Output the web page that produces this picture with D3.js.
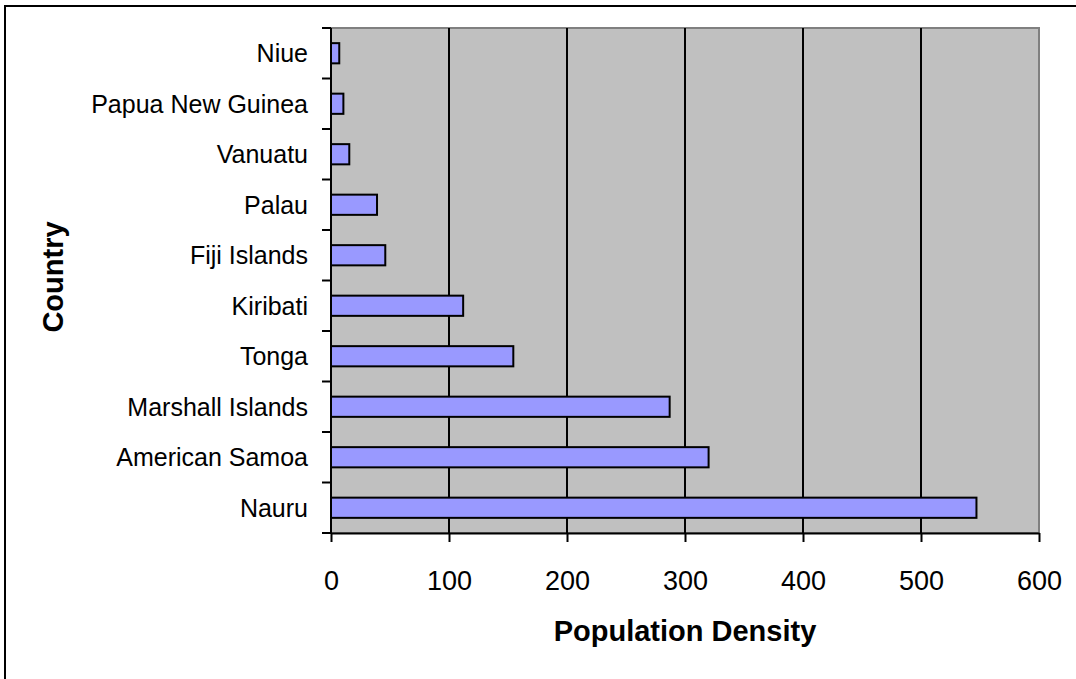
<!DOCTYPE html>
<html>
<head>
<meta charset="utf-8">
<script src="https://cdn.jsdelivr.net/npm/d3@7"></script>
<style>
  body { margin: 0; background: #fff; }
  svg { display: block; font-family: "Liberation Sans", Arial, sans-serif; }
</style>
</head>
<body>
<div id="chart"></div>
<script>
// data, top to bottom as drawn
const countries = ['Niue', 'Papua New Guinea', 'Vanuatu', 'Palau', 'Fiji Islands',
  'Kiribati', 'Tonga', 'Marshall Islands', 'American Samoa', 'Nauru']
const density = [7, 10.5, 15.5, 39, 46, 112, 154.5, 287, 320, 547]
const xTicks = [0, 100, 200, 300, 400, 500, 600]

const width = 1076, height = 679
const margin = { top: 28, right: 37, bottom: 146, left: 331 }

const svg = d3.select('#chart').append('svg')
  .attr('width', width)
  .attr('height', height)

// outer chart border (right/bottom run off the picture)
svg.append('rect')
  .attr('x', 5).attr('y', 6)
  .attr('width', width + 10).attr('height', height + 10)
  .attr('fill', '#fff')
  .attr('stroke', '#000')
  .attr('stroke-width', 2)

const x = d3.scaleLinear().domain([0, 600]).range([margin.left, width - margin.right])
const y = d3.scaleBand().domain(countries).range([margin.top, height - margin.bottom])
  .paddingInner(0.6).paddingOuter(0.3)

const plotTop = margin.top, plotBottom = height - margin.bottom

// plot area
svg.append('rect')
  .attr('x', x(0)).attr('y', plotTop)
  .attr('width', x(600) - x(0)).attr('height', plotBottom - plotTop)
  .attr('fill', '#c0c0c0')
  .attr('stroke', '#808080')
  .attr('stroke-width', 2)

// vertical gridlines
svg.append('g')
  .selectAll('line')
  .data(xTicks.slice(1, -1))
  .enter()
  .append('line')
  .attr('x1', d => x(d)).attr('x2', d => x(d))
  .attr('y1', plotTop).attr('y2', plotBottom)
  .attr('stroke', '#000')
  .attr('stroke-width', 2)

// bars
svg.append('g')
  .selectAll('rect')
  .data(countries)
  .enter()
  .append('rect')
  .attr('x', x(0))
  .attr('y', d => y(d))
  .attr('width', (d, i) => x(density[i]) - x(0))
  .attr('height', y.bandwidth())
  .attr('fill', '#9999ff')
  .attr('stroke', '#000')
  .attr('stroke-width', 2)

// x axis
const xAxis = svg.append('g')
  .attr('transform', `translate(0,${plotBottom})`)
  .call(d3.axisBottom(x).tickValues(xTicks).tickSize(9).tickSizeOuter(0))
xAxis.select('.domain').attr('stroke-width', 2)
xAxis.selectAll('.tick line').attr('stroke-width', 2)
xAxis.selectAll('text')
  .attr('y', 57).attr('dy', null)
  .attr('font-size', 27).attr('fill', '#000')
  .attr('font-family', '"Liberation Sans", Arial, sans-serif')

// y axis: ticks sit on the category boundaries
const step = (plotBottom - plotTop) / countries.length
svg.append('line')
  .attr('x1', x(0)).attr('x2', x(0))
  .attr('y1', plotTop).attr('y2', plotBottom)
  .attr('stroke', '#000').attr('stroke-width', 2)
svg.append('g')
  .selectAll('line')
  .data(d3.range(countries.length + 1))
  .enter()
  .append('line')
  .attr('x1', x(0) - 9).attr('x2', x(0))
  .attr('y1', i => plotTop + i * step).attr('y2', i => plotTop + i * step)
  .attr('stroke', '#000').attr('stroke-width', 2)

svg.append('g')
  .selectAll('text')
  .data(countries)
  .enter()
  .append('text')
  .attr('x', 308)
  .attr('y', d => y(d) + y.bandwidth() / 2 + 9)
  .attr('text-anchor', 'end')
  .attr('font-size', 25)
  .text(d => d)

// axis titles
svg.append('text')
  .attr('x', (x(0) + x(600)) / 2)
  .attr('y', 641)
  .attr('text-anchor', 'middle')
  .attr('font-size', 29)
  .attr('font-weight', 'bold')
  .text('Population Density')

svg.append('text')
  .attr('transform', 'translate(63,277) rotate(-90)')
  .attr('text-anchor', 'middle')
  .attr('font-size', 29)
  .attr('font-weight', 'bold')
  .text('Country')
</script>
</body>
</html>
